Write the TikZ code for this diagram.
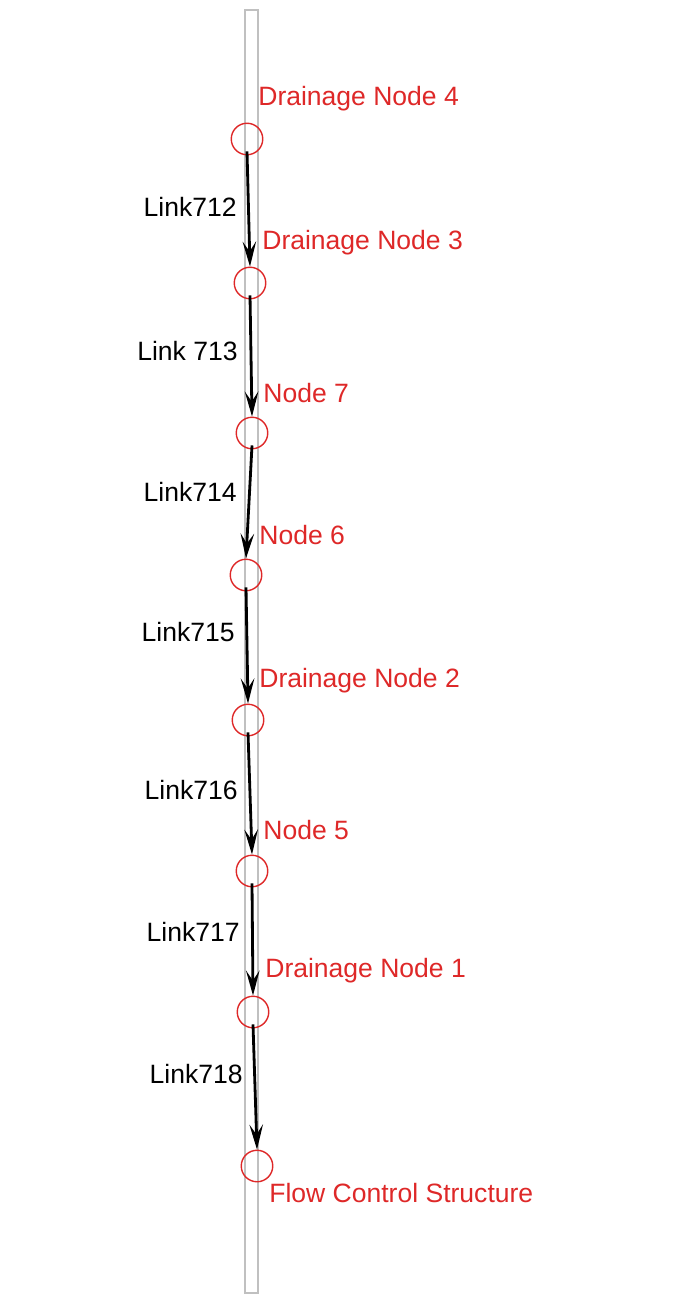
\documentclass[tikz,border=0pt]{standalone}
\usepackage{fontspec}
\setmainfont{Liberation Sans}
\usepackage{tikz}
\usetikzlibrary{arrows.meta, positioning}
\definecolor{drainred}{RGB}{222,40,40}
\definecolor{railgray}{RGB}{192,192,192}

\begin{document}
\begin{tikzpicture}[x=0.02cm, y=-0.02cm,
    junction/.style={circle, draw=drainred, line width=0.8pt, minimum size=0.63cm, inner sep=0pt},
    redname/.style={anchor=west, inner sep=0pt, text=drainred, font=\fontsize{15.1}{18}\selectfont},
    linkname/.style={anchor=east, inner sep=0pt, font=\fontsize{15.1}{18}\selectfont},
    flow/.style={line width=1.6pt, -{Stealth[length=0.5cm, width=0.27cm, inset=0.2cm]}}]
                \useasboundingbox (0,0) rectangle (673,1297);
                % Profile strip (vertical)
                \draw[railgray, line width=0.8pt] (245,10) rectangle (258,1293);

                % Junctions
                \node[junction] (n4) at (247,139)  {};
                \node[junction] (n3) at (250,283)  {};
                \node[junction] (n7) at (252,433)  {};
                \node[junction] (n6) at (246,575)  {};
                \node[junction] (n2) at (248,720)  {};
                \node[junction] (n5) at (252,871)  {};
                \node[junction] (n1) at (253,1012) {};
                \node[junction] (fc) at (257,1166) {};

                % Junction names
                \node[redname] at (258,99)   {Drainage Node 4};
                \node[redname] at (262,243)  {Drainage Node 3};
                \node[redname] at (263,393)  {Node 7};
                \node[redname] at (259,535)  {Node 6};
                \node[redname] at (259,681)  {Drainage Node 2};
                \node[redname] at (263,830)  {Node 5};
                \node[redname] at (265,971)  {Drainage Node 1};
                \node[redname] at (269,1193) {Flow Control Structure};

                % Links
                \draw[flow] ([yshift=0.08cm]n4.south) -- (n3.north);
                \draw[flow] ([yshift=0.08cm]n3.south) -- (n7.north);
                \draw[flow] ([yshift=0.08cm]n7.south) -- (n6.north);
                \draw[flow] ([yshift=0.08cm]n6.south) -- (n2.north);
                \draw[flow] ([yshift=0.08cm]n2.south) -- (n5.north);
                \draw[flow] ([yshift=0.08cm]n5.south) -- (n1.north);
                \draw[flow] ([yshift=0.08cm]n1.south) -- (fc.north);

                % Link names
                \node[linkname] at (237,207)  {Link712};
                \node[linkname] at (238,351)  {Link 713};
                \node[linkname] at (237,492)  {Link714};
                \node[linkname] at (235,632)  {Link715};
                \node[linkname] at (238,790)  {Link716};
                \node[linkname] at (240,932)  {Link717};
                \node[linkname] at (243,1074) {Link718};
\end{tikzpicture}
\end{document}
